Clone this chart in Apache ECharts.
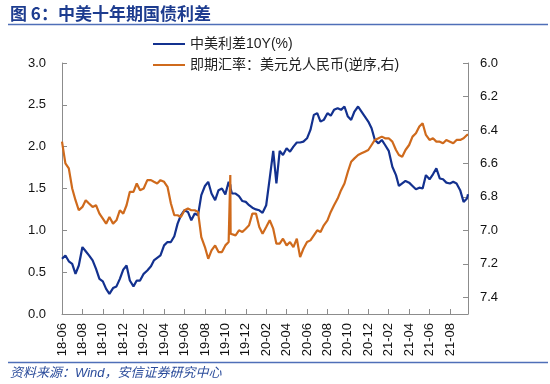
<!DOCTYPE html>
<html><head><meta charset="utf-8">
<script src="https://cdn.jsdelivr.net/npm/echarts@6/dist/echarts.min.js"></script>
<style>html,body{margin:0;padding:0;background:#fff}#c{width:550px;height:384px}</style>
</head><body><div id="c"></div>
<script>
// Dates (roughly every 10 days), plus a few around the Oct-2019 spike
const dates = [
'2018-06-01','2018-06-11','2018-06-21','2018-07-01','2018-07-11','2018-07-21','2018-08-01','2018-08-11','2018-08-21',
'2018-09-01','2018-09-11','2018-09-21','2018-10-01','2018-10-11','2018-10-21','2018-11-01','2018-11-11','2018-11-21',
'2018-12-01','2018-12-11','2018-12-21','2019-01-01','2019-01-11','2019-01-21','2019-02-01','2019-02-11','2019-02-21',
'2019-03-01','2019-03-11','2019-03-21','2019-04-01','2019-04-11','2019-04-21','2019-05-01','2019-05-11','2019-05-21',
'2019-06-01','2019-06-11','2019-06-21','2019-07-01','2019-07-11','2019-07-21','2019-08-01','2019-08-11','2019-08-21',
'2019-09-01','2019-09-11','2019-09-21','2019-10-01','2019-10-11','2019-10-15','2019-10-16','2019-10-17','2019-10-21',
'2019-11-01','2019-11-11','2019-11-21','2019-12-01','2019-12-11','2019-12-21','2020-01-01','2020-01-11','2020-01-21',
'2020-02-01','2020-02-11','2020-02-21','2020-03-01','2020-03-11','2020-03-21','2020-04-01','2020-04-11','2020-04-21',
'2020-05-01','2020-05-11','2020-05-21','2020-06-01','2020-06-11','2020-06-21','2020-07-01','2020-07-11','2020-07-21',
'2020-08-01','2020-08-11','2020-08-21','2020-09-01','2020-09-11','2020-09-21','2020-10-01','2020-10-11','2020-10-21',
'2020-11-01','2020-11-11','2020-11-21','2020-12-01','2020-12-11','2020-12-21','2021-01-01','2021-01-11','2021-01-21',
'2021-02-01','2021-02-11','2021-02-21','2021-03-01','2021-03-11','2021-03-21','2021-04-01','2021-04-11','2021-04-21',
'2021-05-01','2021-05-11','2021-05-21','2021-06-01','2021-06-11','2021-06-21','2021-07-01','2021-07-11','2021-07-21',
'2021-08-01','2021-08-11','2021-08-21','2021-09-01','2021-09-11','2021-09-21','2021-09-24'
];
// 中美利差10Y(%)
const spread = [
0.66,0.70,0.63, 0.60,0.48,0.58, 0.80,0.75,0.70,
0.64,0.54,0.42, 0.39,0.30,0.24, 0.31,0.33,0.42,
0.53,0.58,0.40, 0.33,0.40,0.40, 0.48,0.52,0.57,
0.64,0.67,0.70, 0.82,0.86,0.86, 0.93,1.08,1.18,
1.24,1.22,1.12, 1.20,1.18,1.42, 1.53,1.58,1.44,
1.36,1.48,1.50, 1.43,1.58,1.52,1.55,1.50,1.44,
1.44,1.41,1.35, 1.34,1.30,1.27, 1.25,1.24,1.21,
1.30,1.62,1.95, 1.56,1.95,1.90, 1.98,1.94,2.00,
2.05,2.05,2.06, 2.10,2.20,2.38, 2.40,2.30,2.32,
2.40,2.37,2.44, 2.46,2.44,2.48, 2.36,2.32,2.42,
2.48,2.42,2.36, 2.30,2.22,2.08, 2.04,2.08,2.02,
1.95,1.76,1.66, 1.53,1.56,1.59, 1.57,1.53,1.49,
1.51,1.50,1.66, 1.61,1.67,1.74, 1.62,1.61,1.57,
1.56,1.58,1.56, 1.48,1.34,1.38, 1.43
];
// 即期汇率：美元兑人民币
const usdcny = [
6.47,6.60,6.63, 6.75,6.82,6.88, 6.86,6.82,6.84,
6.86,6.85,6.90, 6.93,6.96,6.92, 6.96,6.94,6.88,
6.90,6.85,6.77, 6.77,6.72,6.76, 6.75,6.70,6.70,
6.71,6.72,6.70, 6.71,6.74,6.84, 6.91,6.91,6.92,
6.88,6.87,6.88, 6.88,6.89,7.04, 7.10,7.17,7.12,
7.09,7.13,7.13, 7.09,7.07,7.07,6.67,7.02,7.01,
7.03,7.00,7.01, 6.99,6.97,6.90, 6.90,6.98,7.02,
6.98,6.94,6.99, 7.08,7.08,7.05, 7.09,7.07,7.10,
7.05,7.16,7.11, 7.07,7.06,7.03, 7.00,7.01,6.97,
6.94,6.89,6.85, 6.81,6.76,6.72, 6.65,6.59,6.57,
6.55,6.54,6.53, 6.52,6.49,6.46, 6.45,6.44,6.45,
6.45,6.47,6.52, 6.55,6.56,6.52, 6.49,6.44,6.42,
6.38,6.36,6.43, 6.46,6.45,6.47, 6.47,6.48,6.46,
6.47,6.48,6.46, 6.46,6.45,6.43, 6.43
];
const leftTicks = [0, 3, 0.5];      // min, max, interval
const rightTicks = [6.0, 7.5, 0.2]; // min, max, interval (inverse)

function toM(d){
  const p = d.split('-').map(Number);
  const dim = new Date(p[0], p[1], 0).getDate();
  return (p[0]-2018)*12 + (p[1]-6) + (p[2]-1)/dim;
}
const xMax = toM(dates[dates.length-1]);
function xLabel(v){
  if (Math.abs(v - Math.round(v)) > 1e-6 || Math.round(v) % 2 !== 0 || v > xMax - 0.5) return '';
  const k = Math.round(v) + 5;
  const y = 2018 + Math.floor(k/12), mo = k % 12 + 1;
  return String(y % 100) + '-' + (mo < 10 ? '0' : '') + mo;
}
const FONT = '"Liberation Sans","Noto Sans CJK SC",Arial,sans-serif';
const axisCol = '#8c8c8c';
const chart = echarts.init(document.getElementById('c'), null, {renderer:'canvas'});
chart.setOption({
  animation: false,
  backgroundColor: '#fff',
  title: {
    text: '图 6：中美十年期国债利差', left: 10, top: 5, padding: 0,
    textStyle: {fontSize: 17, fontWeight: 'bold', color: '#1d3c8f', fontFamily: '"Noto Sans CJK SC",sans-serif'}
  },
  graphic: [
    {type:'line', shape:{x1:8,y1:24.5,x2:548,y2:24.5}, style:{stroke:'#4f6fb8', lineWidth:1.5}},
    {type:'line', shape:{x1:8,y1:362.5,x2:548,y2:362.5}, style:{stroke:'#4f6fb8', lineWidth:1.5}},
    {type:'text', left: 10, top: 367, style:{text:'资料来源：Wind，安信证券研究中心', fill:'#2b4c9b',
      font:'italic 13px "Liberation Sans","Noto Sans CJK SC",sans-serif'}}
  ],
  legend: {
    orient: 'vertical', left: 153, top: 36, padding: 0, itemGap: 5,
    itemWidth: 32, itemHeight: 2, icon: 'rect',
    textStyle: {fontSize: 14, color: '#222', fontFamily: FONT, lineHeight: 16}
  },
  grid: {left: 62, right: 82, top: 63, bottom: 70},
  xAxis: {
    type: 'value', min: 0, max: xMax, interval: 2,
    axisLine: {lineStyle: {color: axisCol}},
    axisTick: {inside: true, length: 5, lineStyle: {color: axisCol}},
    splitLine: {show: false},
    axisLabel: {rotate: 90, margin: 9, fontSize: 13, color: '#111', fontFamily: FONT, formatter: xLabel,
      showMaxLabel: false}
  },
  yAxis: [
    {type: 'value', min: leftTicks[0], max: leftTicks[1], interval: leftTicks[2],
     axisLine: {show: true, lineStyle: {color: axisCol}},
     axisTick: {show: true, inside: true, length: 5, lineStyle: {color: axisCol}},
     splitLine: {show: false},
     axisLabel: {margin: 16, fontSize: 13, color: '#111', fontFamily: FONT, formatter: v => v.toFixed(1)}},
    {type: 'value', inverse: true, min: rightTicks[0], max: rightTicks[1], interval: rightTicks[2],
     axisLine: {show: true, lineStyle: {color: axisCol}},
     axisTick: {show: true, inside: true, length: 5, lineStyle: {color: axisCol}},
     splitLine: {show: false},
     axisLabel: {margin: 12, fontSize: 13, color: '#111', fontFamily: FONT,
       formatter: v => (v > 7.45 ? '' : v.toFixed(1))}}
  ],
  series: [
    {name: '中美利差10Y(%)', type: 'line', yAxisIndex: 0, showSymbol: false, symbol: 'none',
     color: '#13318f', lineStyle: {width: 2.2, color: '#13318f'},
     data: dates.map((d, i) => [toM(d), spread[i]])},
    {name: '即期汇率：美元兑人民币(逆序,右)', type: 'line', yAxisIndex: 1, showSymbol: false, symbol: 'none',
     color: '#cf6a1c', lineStyle: {width: 2.2, color: '#cf6a1c'},
     data: dates.map((d, i) => [toM(d), usdcny[i]])}
  ]
});
</script></body></html>
